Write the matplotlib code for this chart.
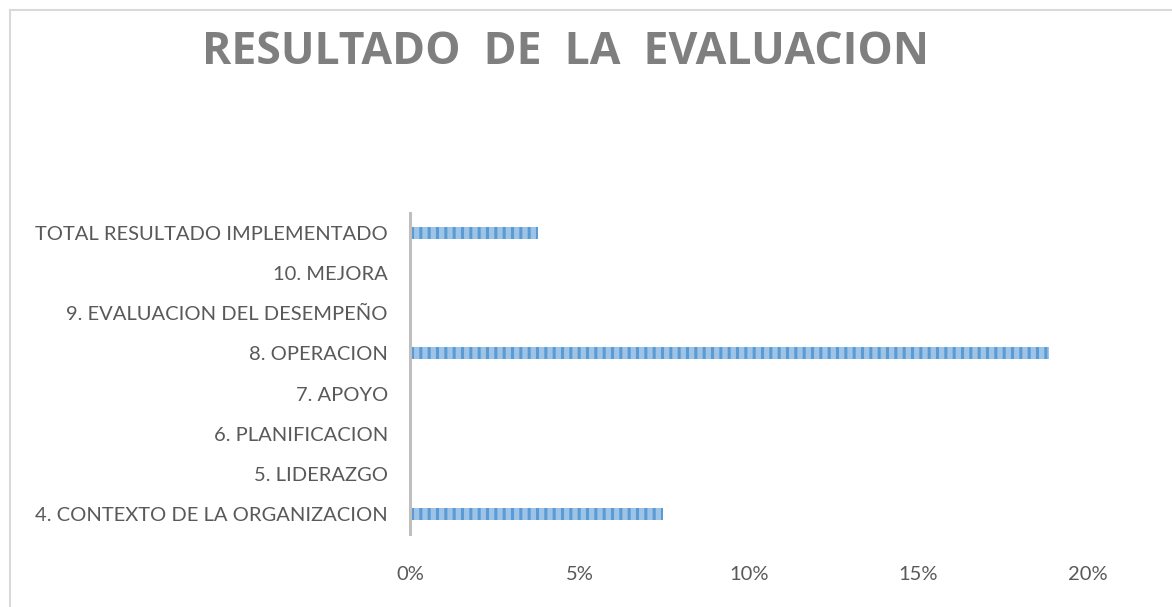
import matplotlib.pyplot as plt
from matplotlib.patches import Rectangle
from matplotlib.ticker import PercentFormatter

plt.rcParams['font.family'] = ['Lato', 'DejaVu Sans']
plt.rcParams['hatch.linewidth'] = 2.2

# data, bottom to top as in the chart
categories = [
    '4. CONTEXTO DE LA ORGANIZACION',
    '5. LIDERAZGO',
    '6. PLANIFICACION',
    '7. APOYO',
    '8. OPERACION',
    '9. EVALUACION DEL DESEMPEÑO',
    '10. MEJORA',
    'TOTAL RESULTADO IMPLEMENTADO',
]
values = [0.0745, 0.0, 0.0, 0.0, 0.1885, 0.0, 0.0, 0.0377]
x_ticks = [0, 0.05, 0.10, 0.15, 0.20]

fig = plt.figure(figsize=(11.72, 6.07), dpi=100)

# chart border (runs off the right and bottom edge in the original)
fig.patches.append(Rectangle((10 / 1172, -0.05), 1.2, 1 - 10 / 607 + 0.05,
                             transform=fig.transFigure, fill=False,
                             edgecolor='#D9D9D9', linewidth=1.5))

ax = fig.add_axes([410 / 1172, 1 - 534 / 607, (1088 - 410) / 1172, (534 - 213) / 607])

y = range(len(categories))
ax.barh(y, values, height=0.3, color='#9DC3E6', edgecolor='#5B9BD5',
        linewidth=0, hatch='||')

ax.set_xlim(0, 0.20)
ax.set_ylim(-0.5, len(categories) - 0.5)
ax.set_yticks(list(y))
ax.set_yticklabels(categories)
ax.set_xticks(x_ticks)
ax.xaxis.set_major_formatter(PercentFormatter(1.0, decimals=0))
ax.tick_params(axis='both', length=0, labelsize=14.5, labelcolor='#595959')
ax.tick_params(axis='x', pad=23)
ax.tick_params(axis='y', pad=16)

for side in ['top', 'right', 'bottom']:
    ax.spines[side].set_visible(False)
ax.spines['left'].set_color('#BFBFBF')
ax.spines['left'].set_linewidth(2.2)

fig.text(565 / 1172, 1 - 52 / 607, 'RESULTADO  DE  LA  EVALUACION',
         ha='center', va='center', fontsize=32, fontweight='bold',
         color='#7F7F7F', family=['Open Sans', 'DejaVu Sans'])

fig.savefig('out.png', dpi=100)
